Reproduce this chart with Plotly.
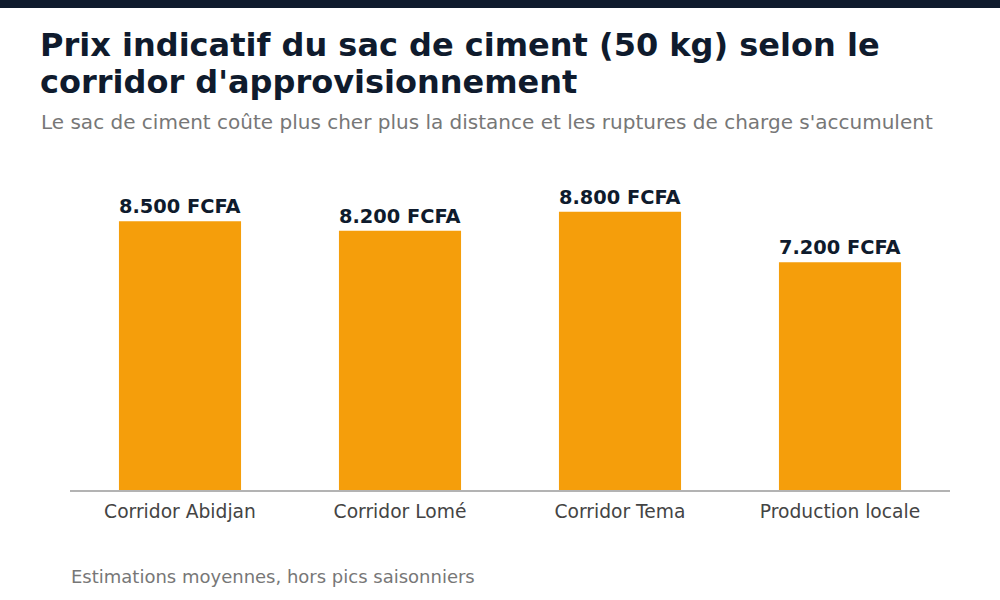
import plotly.graph_objects as go

categories = ["Corridor Abidjan", "Corridor Lomé", "Corridor Tema", "Production locale"]
prices = [8500, 8200, 8800, 7200]
labels = [f"{v:,}".replace(",", ".") + " FCFA" for v in prices]

title_lines = ["Prix indicatif du sac de ciment (50 kg) selon le", "corridor d'approvisionnement"]
subtitle = "Le sac de ciment coûte plus cher plus la distance et les ruptures de charge s'accumulent"
footnote = "Estimations moyennes, hors pics saisonniers"

W, H = 1000, 600
ml, mr, mt, mb = 70, 50, 150, 110
pw, ph = W - ml - mr, H - mt - mb

def px(x):
    return (x - ml) / pw

def py(y):
    return 1 + (mt - y) / ph

fig = go.Figure(go.Bar(
    x=categories, y=prices,
    marker=dict(color="#f59e0b", line=dict(width=0)),
    text=labels, textposition="outside", cliponaxis=False,
    textfont=dict(family="DejaVu Sans", size=20, color="#0f1b2d", weight="bold"),
    hoverinfo="skip",
))

annotations = []
for i, line in enumerate(title_lines):
    annotations.append(dict(
        text=line, xref="paper", yref="paper", x=px(38), y=py(44.8 + 37 * i),
        xanchor="left", yanchor="middle", showarrow=False,
        font=dict(family="DejaVu Sans", size=32, color="#0f1b2d", weight="bold")))
annotations += [
    dict(text=subtitle, xref="paper", yref="paper", x=px(39), y=py(122),
         xanchor="left", yanchor="middle", showarrow=False,
         font=dict(family="DejaVu Sans", size=20, color="#777777")),
    dict(text=footnote, xref="paper", yref="paper", x=px(69), y=py(576.7),
         xanchor="left", yanchor="middle", showarrow=False,
         font=dict(family="DejaVu Sans", size=18, color="#777777")),
]

fig.update_layout(
    width=W, height=H,
    margin=dict(l=ml, r=mr, t=mt, b=mb),
    paper_bgcolor="white", plot_bgcolor="white",
    font=dict(family="DejaVu Sans"),
    bargap=0.445,
    showlegend=False,
    xaxis=dict(showgrid=False, showline=True, linecolor="#b3b3b3", linewidth=2,
               ticks="", ticklabelstandoff=4,
               tickfont=dict(family="DejaVu Sans", size=18.7, color="#444444"), fixedrange=True),
    yaxis=dict(visible=False, range=[0, 10750], showgrid=False, zeroline=False, fixedrange=True),
    shapes=[dict(type="rect", xref="paper", yref="paper",
                 x0=px(0), x1=px(W), y0=py(8), y1=py(0),
                 fillcolor="#0f1b2d", line=dict(width=0), layer="above")],
    annotations=annotations,
)

fig.write_html("out.html")
